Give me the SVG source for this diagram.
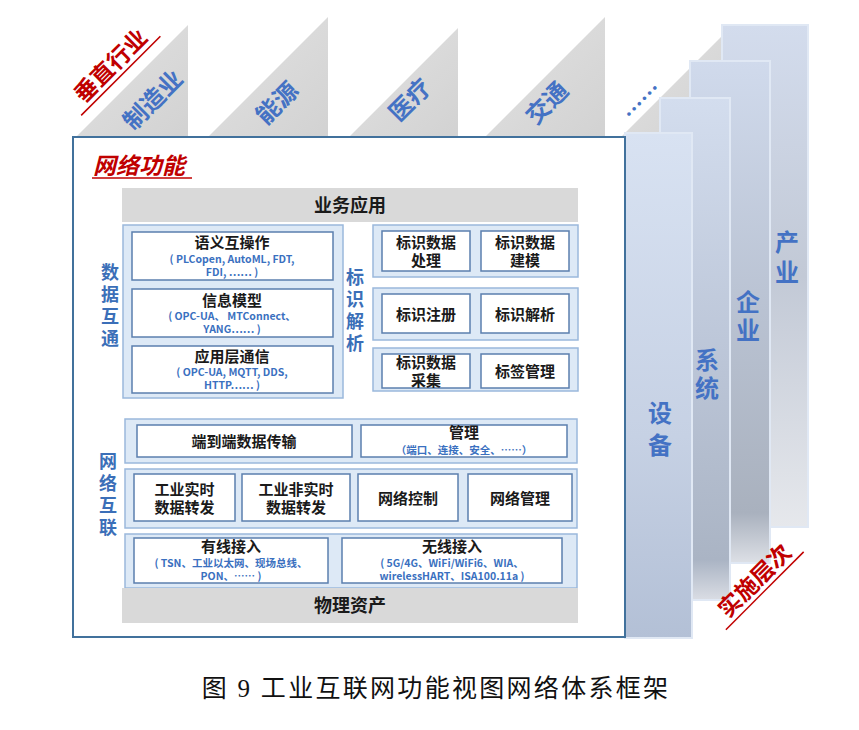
<svg xmlns="http://www.w3.org/2000/svg" width="859" height="730" viewBox="0 0 859 730">
<defs>
<linearGradient id="gTri" x1="0" y1="0" x2="1" y2="1"><stop offset="0" stop-color="#e2e2e2"/><stop offset="1" stop-color="#d2d2d2"/></linearGradient>
<linearGradient id="gP1" x1="0" y1="0" x2="0" y2="1"><stop offset="0" stop-color="#d8e2f2"/><stop offset="0.6" stop-color="#c6d1e4"/><stop offset="1" stop-color="#b3c0d6"/></linearGradient>
<linearGradient id="gP2" x1="0" y1="0" x2="0" y2="1"><stop offset="0" stop-color="#d3ddee"/><stop offset="0.55" stop-color="#bac4d6"/><stop offset="0.92" stop-color="#aab4c4"/><stop offset="1" stop-color="#dadde4"/></linearGradient>
<linearGradient id="gP3" x1="0" y1="0" x2="0" y2="1"><stop offset="0" stop-color="#d0daec"/><stop offset="0.5" stop-color="#b9c2d2"/><stop offset="0.9" stop-color="#a9b1be"/><stop offset="1" stop-color="#dde0e6"/></linearGradient>
<linearGradient id="gP4" x1="0" y1="0" x2="0" y2="1"><stop offset="0" stop-color="#d3dced"/><stop offset="0.5" stop-color="#c2c9d6"/><stop offset="1" stop-color="#e6e8ec"/></linearGradient>
<style>
.tri{fill:url(#gTri)}
.f{font-family:"Noto Sans CJK SC","Noto Sans",sans-serif;font-weight:bold;text-anchor:middle}
.v{writing-mode:vertical-rl;text-orientation:upright}
.ind{font-size:24px;fill:#4472c4}
.red{font-size:23px;fill:#c00000}
.pil{font-size:24px;fill:#4472c4}
.lbl{font-size:18px;fill:#3b6fb8;letter-spacing:3.7px}
.grp{fill:#dde9f6;stroke:#9ab8dc;stroke-width:1.5}
.box{fill:#ffffff;stroke:#5b7fae;stroke-width:1.5}
.bar{fill:#d9d9d9}
.t{font-size:15px;fill:#1a1a1a}
.h{font-size:18px;fill:#1a1a1a}
.s{font-size:10.5px;fill:#3a70c0}
.pl{stroke:#e0e8f4;stroke-width:2}
</style>
</defs>

<rect width="859" height="730" fill="#ffffff"/>

<g id="industries">
<polygon class="tri" points="75,138 188,25 188,138"/>
<polygon class="tri" points="207,138 328,17 328,138"/>
<polygon class="tri" points="348,138 458,28 458,138"/>
<polygon class="tri" points="484,138 605,17 605,138"/>
<polygon class="tri" points="620,138 722,36 722,138"/>
<text class="f ind" transform="translate(153,100) rotate(-45)" y="8.5">制造业</text>
<text class="f ind" transform="translate(277,103) rotate(-45)" y="8.5">能源</text>
<text class="f ind" transform="translate(410,100) rotate(-45)" y="8.5">医疗</text>
<text class="f ind" transform="translate(547,103) rotate(-45)" y="8.5">交通</text>
<text class="f ind" transform="translate(645,104) rotate(-45)" y="4" style="font-size:22px">……</text>
</g>

<g id="vertical-industry-label">
<g transform="translate(113,68) rotate(-45)">
<text class="f red" y="5">垂直行业</text>
<line x1="-56" y1="11" x2="56" y2="11" stroke="#c00000" stroke-width="1.5"/>
</g>
</g>

<g id="levels">
<rect class="pl" x="722" y="25" width="86" height="502" fill="url(#gP4)"/>
<rect class="pl" x="690" y="61" width="80" height="502" fill="url(#gP3)"/>
<rect class="pl" x="660" y="98" width="70" height="502" fill="url(#gP2)"/>
<rect class="pl" x="625" y="133" width="67" height="505" fill="url(#gP1)"/>
<text class="f pil v" x="787" y="260" style="letter-spacing:6px">产业</text>
<text class="f pil v" x="748" y="318" style="letter-spacing:4px">企业</text>
<text class="f pil v" x="707" y="376" style="letter-spacing:4px">系统</text>
<text class="f pil v" x="660" y="433" style="letter-spacing:8px">设备</text>
</g>

<g id="level-label">
<g transform="translate(757,583) rotate(-45)">
<text class="f red" y="5">实施层次</text>
<line x1="-55" y1="11" x2="55" y2="11" stroke="#c00000" stroke-width="1.5"/>
</g>
</g>

<g id="network-function">
<rect x="73" y="137" width="552" height="500" fill="#ffffff" stroke="#41719c" stroke-width="2"/>
<text class="f" x="93" y="174" style="font-size:23px;fill:#c00000;font-style:italic;text-anchor:start">网络功能</text>
<line x1="92" y1="178" x2="192" y2="178" stroke="#c00000" stroke-width="1.5"/>
</g>

<g id="business-app">
<rect class="bar" x="122" y="188" width="456" height="34"/>
<text class="f h" x="350" y="211.5">业务应用</text>
</g>

<g id="data-interop">
<rect class="grp" x="123" y="225" width="220" height="173"/>
<text class="f lbl v" x="110" y="307">数据互通</text>
<g id="semantic">
<rect class="box" x="132" y="232" width="201" height="48"/>
<text class="f t" x="232" y="247.5">语义互操作</text>
<text class="f s"><tspan x="232" y="263">( PLCopen, AutoML, FDT,</tspan><tspan x="232" y="276">FDI, …… )</tspan></text>
</g>
<g id="info-model">
<rect class="box" x="132" y="289" width="201" height="48"/>
<text class="f t" x="232" y="306">信息模型</text>
<text class="f s"><tspan x="232" y="320">( OPC-UA、 MTConnect、</tspan><tspan x="232" y="333">YANG…… )</tspan></text>
</g>
<g id="app-comm">
<rect class="box" x="132" y="346" width="201" height="47"/>
<text class="f t" x="232" y="362">应用层通信</text>
<text class="f s"><tspan x="232" y="376">( OPC-UA, MQTT, DDS,</tspan><tspan x="232" y="389">HTTP…… )</tspan></text>
</g>
</g>

<g id="identity">
<text class="f lbl v" x="355" y="312" style="letter-spacing:4px">标识解析</text>
<rect class="grp" x="373" y="225" width="205" height="52"/>
<rect class="grp" x="373" y="288" width="205" height="52"/>
<rect class="grp" x="373" y="348" width="205" height="43"/>
<g id="id-process">
<rect class="box" x="382" y="231" width="88" height="40"/>
<text class="f t"><tspan x="426" y="247.5">标识数据</tspan><tspan x="426" y="265.5">处理</tspan></text>
</g>
<g id="id-model">
<rect class="box" x="481" y="231" width="88" height="40"/>
<text class="f t"><tspan x="525" y="247.5">标识数据</tspan><tspan x="525" y="265.5">建模</tspan></text>
</g>
<g id="id-register">
<rect class="box" x="382" y="294" width="88" height="39"/>
<text class="f t" x="426" y="320">标识注册</text>
</g>
<g id="id-resolve">
<rect class="box" x="481" y="294" width="88" height="39"/>
<text class="f t" x="525" y="320">标识解析</text>
</g>
<g id="id-collect">
<rect class="box" x="382" y="354" width="88" height="34"/>
<text class="f t"><tspan x="426" y="368">标识数据</tspan><tspan x="426" y="385.5">采集</tspan></text>
</g>
<g id="tag-mgmt">
<rect class="box" x="481" y="354" width="88" height="34"/>
<text class="f t" x="525" y="377">标签管理</text>
</g>
</g>

<g id="network-interconnect">
<text class="f lbl v" x="108" y="496">网络互联</text>
<rect class="grp" x="125" y="419" width="452" height="44"/>
<rect class="grp" x="125" y="469" width="452" height="59"/>
<rect class="grp" x="125" y="534" width="452" height="54"/>
<g id="e2e">
<rect class="box" x="137" y="425" width="215" height="32"/>
<text class="f t" x="244" y="446.5">端到端数据传输</text>
</g>
<g id="mgmt">
<rect class="box" x="361" y="425" width="206" height="32"/>
<text class="f t" x="464" y="438">管理</text>
<text class="f s" x="464" y="454">（端口、连接、安全、……）</text>
</g>
<g id="rt-forward">
<rect class="box" x="134" y="474" width="101" height="47"/>
<text class="f t"><tspan x="184.5" y="495">工业实时</tspan><tspan x="184.5" y="513">数据转发</tspan></text>
</g>
<g id="nrt-forward">
<rect class="box" x="242" y="474" width="108" height="47"/>
<text class="f t"><tspan x="296" y="495">工业非实时</tspan><tspan x="296" y="513">数据转发</tspan></text>
</g>
<g id="net-control">
<rect class="box" x="358" y="474" width="100" height="47"/>
<text class="f t" x="408" y="504">网络控制</text>
</g>
<g id="net-mgmt">
<rect class="box" x="468" y="474" width="104" height="47"/>
<text class="f t" x="520" y="504">网络管理</text>
</g>
<g id="wired">
<rect class="box" x="134" y="538" width="194" height="45"/>
<text class="f t" x="231" y="552">有线接入</text>
<text class="f s"><tspan x="231" y="567">( TSN、工业以太网、现场总线、</tspan><tspan x="231" y="580">PON、…… )</tspan></text>
</g>
<g id="wireless">
<rect class="box" x="342" y="538" width="220" height="45"/>
<text class="f t" x="452" y="552">无线接入</text>
<text class="f s"><tspan x="452" y="567">( 5G/4G、WiFi/WiFi6、WIA、</tspan><tspan x="452" y="580">wirelessHART、ISA100.11a )</tspan></text>
</g>
</g>

<g id="physical-assets">
<rect class="bar" x="122" y="588" width="456" height="35"/>
<text class="f h" x="350" y="612">物理资产</text>
</g>

<g id="connectors"></g>

<text x="436" y="697" style="font-family:'Liberation Serif','Noto Sans CJK SC',serif;font-size:25px;letter-spacing:2.3px;fill:#111;text-anchor:middle">图 9  工业互联网功能视图网络体系框架</text>
</svg>
